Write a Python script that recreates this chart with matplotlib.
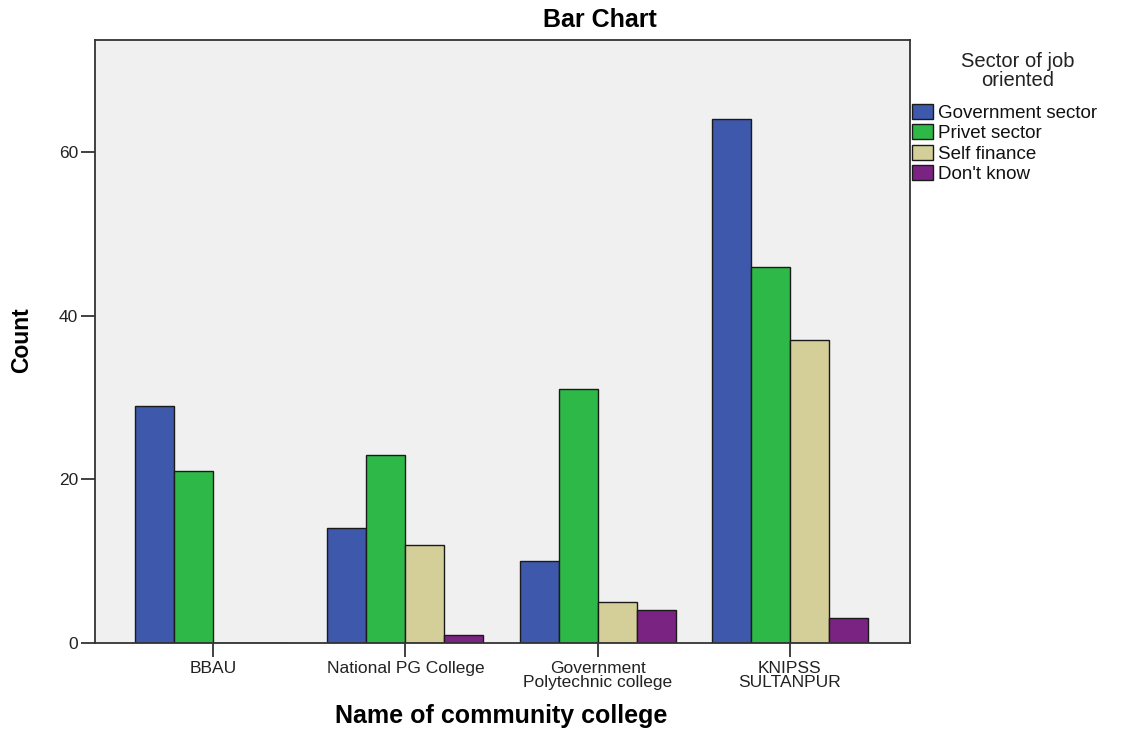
import numpy as np
import matplotlib
matplotlib.use("Agg")
import matplotlib.pyplot as plt
from matplotlib.patches import Patch

plt.rcParams['font.family'] = ['Liberation Sans', 'DejaVu Sans']

colleges = ["BBAU", "National PG College", "Government\nPolytechnic college", "KNIPSS\nSULTANPUR"]
sectors = ["Government sector", "Privet sector", "Self finance", "Don't know"]
government = [29, 14, 10, 64]
privet = [21, 23, 31, 46]
self_finance = [0, 12, 5, 37]
dont_know = [0, 1, 4, 3]
colors = ["#3E58AC", "#2EB848", "#D4CE98", "#7B2382"]

series = [government, privet, self_finance, dont_know]

W, H = 1128, 732
fig = plt.figure(figsize=(W / 100, H / 100), dpi=100)
ax = fig.add_axes([95 / W, 1 - 643 / H, (910 - 95) / W, (643 - 40) / H])
ax.set_facecolor("#F0F0F0")

x = np.arange(len(colleges))
width = 0.203
for i, (vals, col) in enumerate(zip(series, colors)):
    offs = (i - 1.5) * width
    ax.bar(x + offs, vals, width, color=col, edgecolor="#1a1a1a", linewidth=1.0, zorder=2)

ax.set_xlim(-0.615, 3.625)
ax.set_ylim(0, 73.7)
ax.set_xticks(x)
ax.set_xticklabels(colleges, fontsize=12.5, color="#222222", linespacing=0.95)
ax.set_yticks([0, 20, 40, 60])
ax.tick_params(axis='y', labelsize=12.5, length=10, width=1.3, color="#333333",
               labelcolor="#222222", pad=2)
ax.tick_params(axis='x', length=10, width=1.3, color="#333333", pad=3)
for s in ax.spines.values():
    s.set_color("#333333")
    s.set_linewidth(1.3)

fig.text(600 / W, 1 - 20 / H, "Bar Chart", fontsize=18, fontweight="bold",
         ha="center", va="center")
fig.text(501 / W, 1 - 716 / H, "Name of community college", fontsize=18,
         fontweight="bold", ha="center", va="center")
fig.text(22 / W, 1 - 340 / H, "Count", fontsize=16.5, fontweight="bold",
         ha="center", va="center", rotation=90)

# legend heading and entries
fig.text(1018 / W, 1 - 71 / H, "Sector of job\noriented", fontsize=14.5,
         color="#222222", ha="center", va="center", multialignment="center",
         linespacing=1.05)
handles = [Patch(facecolor=c, edgecolor="#1a1a1a", linewidth=1.0) for c in colors]
leg = fig.legend(handles, sectors,
                 loc="upper left", bbox_to_anchor=(912 / W, 1 - 104 / H),
                 frameon=False, fontsize=13.5,
                 handlelength=1.1, handleheight=0.85, handletextpad=0.3,
                 labelspacing=0.13, borderaxespad=0, borderpad=0)
for t in leg.get_texts():
    t.set_color("#111111")

fig.savefig("out.png", dpi=100)
